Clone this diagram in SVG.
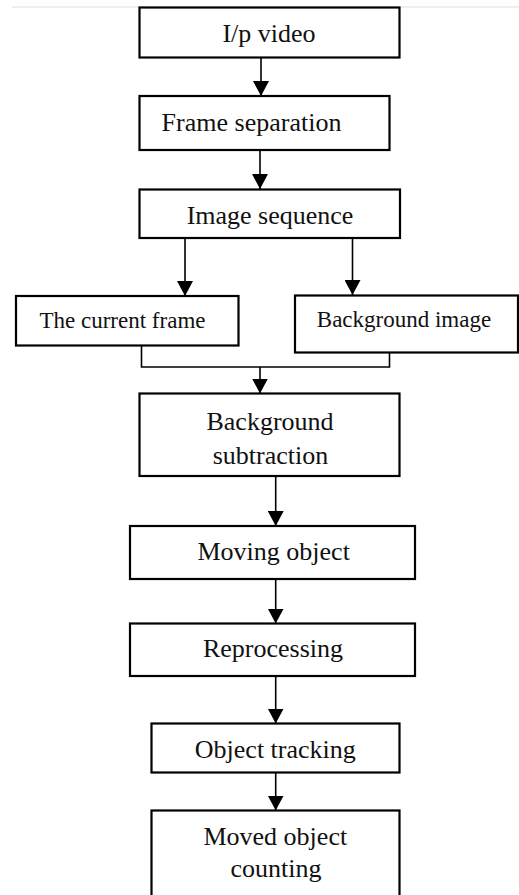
<svg xmlns="http://www.w3.org/2000/svg" width="519" height="895" viewBox="0 0 519 895">
<defs>
<style>
.box{fill:#fff;stroke:#000;stroke-width:2.2}
.t{font-family:"Liberation Serif","Times New Roman",serif;font-size:26px;fill:#111;text-anchor:middle}
.s{font-size:23px}
.ln{fill:none;stroke:#000;stroke-width:1.6}
.ar{fill:none;stroke:#000;stroke-width:1.6;marker-end:url(#ah)}
</style>
<marker id="ah" markerWidth="15" markerHeight="16" refX="15" refY="8" orient="auto" markerUnits="userSpaceOnUse" viewBox="0 0 15 16">
<path d="M0,0 L15,8 L0,16 Z" fill="#000"/>
</marker>
</defs>
<rect width="519" height="895" fill="#fff"/>
<line x1="12" y1="7" x2="519" y2="7" stroke="#ddd" stroke-width="1"/>
<g id="connectors">
<path class="ar" d="M261,57 V96"/>
<path class="ar" d="M260,150 V189"/>
<path class="ar" d="M185,238 V296"/>
<path class="ar" d="M352.5,238 V295"/>
<path class="ln" d="M141.5,345 V367 H389.5 V352"/>
<path class="ar" d="M260,367 V393.5"/>
<path class="ar" d="M275.7,476 V526"/>
<path class="ar" d="M275.7,579 V623.5"/>
<path class="ar" d="M275.7,676 V723.5"/>
<path class="ar" d="M275.7,772.5 V810.5"/>
</g>
<g id="ip"><rect class="box" x="139.5" y="7.5" width="260" height="50"/><text class="t" x="269" y="41.5">I/p video</text></g>
<g id="frame"><rect class="box" x="139.5" y="96" width="250" height="54"/><text class="t" x="251.5" y="131">Frame separation</text></g>
<g id="imgseq"><rect class="box" x="139.5" y="189.5" width="260.5" height="48.5"/><text class="t" x="270" y="223.5">Image sequence</text></g>
<g id="current"><rect class="box" x="16" y="296" width="222.5" height="49.5"/><text class="t s" x="122.5" y="327.5">The current frame</text></g>
<g id="bgimg"><rect class="box" x="295" y="295.5" width="223" height="57"/><text class="t s" x="404" y="327">Background image</text></g>
<g id="bgsub"><rect class="box" x="139.5" y="393.5" width="260" height="82.5"/><text class="t" x="270" y="429.5">Background</text><text class="t" x="270.5" y="463.5">subtraction</text></g>
<g id="moving"><rect class="box" x="130" y="526" width="285" height="53"/><text class="t" x="273.7" y="560">Moving object</text></g>
<g id="reproc"><rect class="box" x="130" y="623.5" width="285" height="52.5"/><text class="t" x="273" y="656.5">Reprocessing</text></g>
<g id="tracking"><rect class="box" x="151.5" y="723.5" width="248" height="49"/><text class="t" x="275.3" y="758">Object tracking</text></g>
<g id="counting"><rect class="box" x="151.5" y="810.5" width="248" height="100"/><text class="t" x="275.3" y="844.5">Moved object</text><text class="t" x="276" y="876.5">counting</text></g>
</svg>
